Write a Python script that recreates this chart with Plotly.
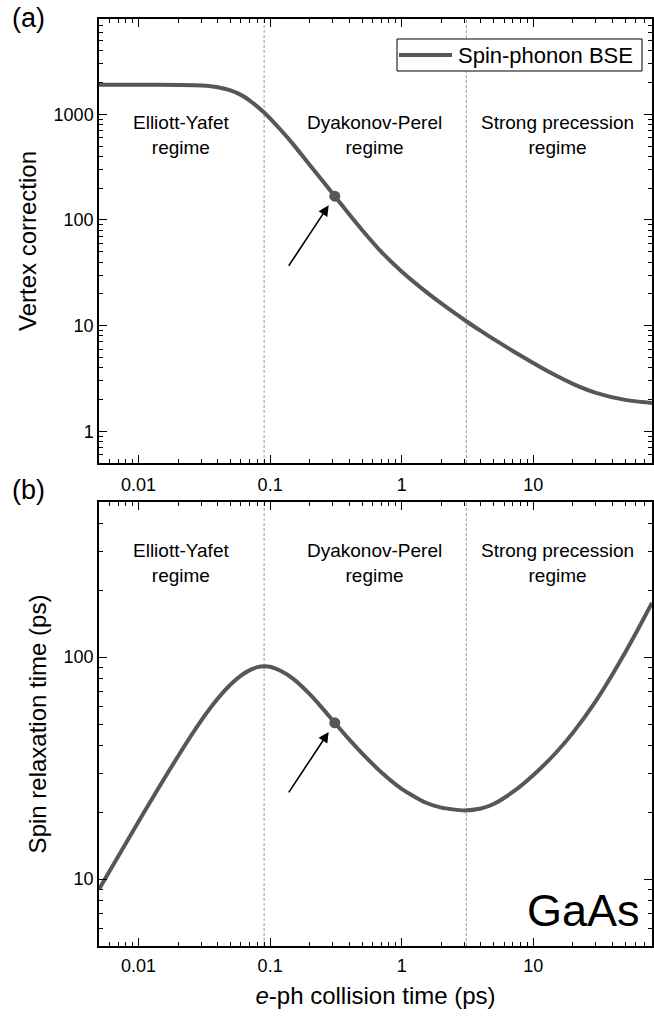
import numpy as np
import plotly.graph_objects as go

# ---------------- data ----------------
tau_top = [0.005, 0.01, 0.02, 0.03, 0.04, 0.05, 0.06, 0.07, 0.09, 0.12, 0.15, 0.2,
           0.25, 0.31, 0.4, 0.5, 0.7, 1.0, 1.42, 2.0, 3.1, 4.0, 5.0, 7.0, 10.0,
           13.7, 20.0, 30.0, 50.0, 80.0]
vertex = [1910, 1910, 1900, 1880, 1810, 1690, 1530, 1350, 1040, 715, 520, 331,
          235, 168, 113, 80.5, 50, 32.5, 22.5, 16.2, 11.0, 8.9, 7.45, 5.75, 4.42,
          3.55, 2.81, 2.31, 1.98, 1.85]

tau_bot = [0.005, 0.01, 0.02, 0.03, 0.04, 0.05, 0.06, 0.07, 0.08, 0.09, 0.1, 0.12,
           0.15, 0.2, 0.25, 0.31, 0.4, 0.5, 0.7, 1.0, 1.5, 2.0, 3.0, 4.0, 5.0,
           7.0, 10.0, 15.0, 20.0, 30.0, 40.0, 50.0, 65.0, 80.0]
spin_time = [9, 18.2, 35.9, 51.9, 65.1, 75.3, 82.6, 87.4, 90.2, 91.1, 90.5, 86.8,
             79.8, 68.1, 58.8, 50.6, 42.5, 36.9, 30.3, 25.5, 22.2, 21.0, 20.4, 20.8, 21.8,
             24.7, 29.4, 37.3, 45.6, 63.6, 83.6, 104.9, 139.2, 175.7]

marker_tau = [0.31]
marker_vertex = [168]
marker_spin = [50.6]

series_name = "Spin-phonon BSE"
regime_bounds = [0.09, 3.1]
regime_labels = ["Elliott-Yafet<br>regime", "Dyakonov-Perel<br>regime",
                 "Strong precession<br>regime"]
regime_label_x = [0.021, 0.62, 15.2]

x_tickvals = [0.01, 0.1, 1, 10]
x_ticktext = ["0.01", "0.1", "1", "10"]
y1_tickvals = [1, 10, 100, 1000]
y1_ticktext = ["1", "10", "100", "1000"]
y2_tickvals = [10, 100]
y2_ticktext = ["10", "100"]

x_range = [0.005, 80]
y1_range = [0.5, 8000]
y2_range = [5, 500]

FONT = "Arial, Liberation Sans, sans-serif"
LINE_COLOR = "#575757"

W, H = 654, 1021
ml, mr, mt, mb = 99, 2, 19, 75
plot_h = H - mt - mb
plot_w = W - ml - mr
top_dom = [(946 - 463) / plot_h, 1.0]
bot_dom = [0.0, (946 - 502) / plot_h]


def py(p):
    return (H - mb - p) / plot_h


def px(p):
    return (p - ml) / plot_w


def minor_vals(lo, hi):
    out = []
    for e in range(int(np.floor(np.log10(lo))) - 1, int(np.ceil(np.log10(hi))) + 1):
        for m in range(2, 10):
            v = m * 10.0 ** e
            if lo <= v <= hi:
                out.append(v)
    return out


fig = go.Figure()

fig.add_trace(go.Scatter(x=tau_top, y=vertex, mode="lines", name=series_name,
                         line=dict(color=LINE_COLOR, width=4, shape="spline", smoothing=0.6),
                         xaxis="x", yaxis="y", showlegend=False))
fig.add_trace(go.Scatter(x=tau_bot, y=spin_time, mode="lines", name=series_name,
                         line=dict(color=LINE_COLOR, width=4, shape="spline", smoothing=0.6),
                         xaxis="x2", yaxis="y2", showlegend=False))
fig.add_trace(go.Scatter(x=marker_tau, y=marker_vertex, mode="markers",
                         marker=dict(color=LINE_COLOR, size=11),
                         xaxis="x", yaxis="y", showlegend=False))
fig.add_trace(go.Scatter(x=marker_tau, y=marker_spin, mode="markers",
                         marker=dict(color=LINE_COLOR, size=11),
                         xaxis="x2", yaxis="y2", showlegend=False))
# invisible traces so the mirrored (top / right) axes get drawn
for xa, ya in (("x3", "y"), ("x", "y3"), ("x4", "y2"), ("x2", "y4")):
    fig.add_trace(go.Scatter(x=[], y=[], xaxis=xa, yaxis=ya, showlegend=False,
                             hoverinfo="skip"))

shapes = []
for b in regime_bounds:
    for xr, yr in (("x", "y domain"), ("x2", "y2 domain")):
        shapes.append(dict(type="line", xref=xr, yref=yr, x0=b, x1=b, y0=0, y1=1,
                           line=dict(color="#9a9a9a", width=1, dash="3px,2px"),
                           layer="below"))
# legend box (drawn by hand to match the long line sample)
shapes.append(dict(type="rect", xref="paper", yref="paper", x0=px(397), x1=px(642),
                   y0=py(71), y1=py(39), line=dict(color="black", width=1),
                   fillcolor="white", layer="above"))
shapes.append(dict(type="line", xref="paper", yref="paper", x0=px(399), x1=px(452),
                   y0=py(55), y1=py(55), line=dict(color=LINE_COLOR, width=4),
                   layer="above"))

annotations = []
annotations.append(dict(x=px(456), y=py(55.5), xref="paper", yref="paper",
                        text=series_name, showarrow=False, xanchor="left",
                        yanchor="middle", font=dict(size=22, color="black", family=FONT)))
for lab, lx in zip(regime_labels, regime_label_x):
    annotations.append(dict(x=np.log10(lx), y=(463 - 135) / 444, xref="x", yref="y domain",
                            text=lab, showarrow=False, xanchor="center", yanchor="middle",
                            font=dict(size=19, color="black", family=FONT)))
    annotations.append(dict(x=np.log10(lx), y=(946 - 563) / 444, xref="x2", yref="y2 domain",
                            text=lab, showarrow=False, xanchor="center", yanchor="middle",
                            font=dict(size=19, color="black", family=FONT)))

annotations.append(dict(x=np.log10(marker_tau[0]), y=np.log10(marker_vertex[0]),
                        xref="x", yref="y", ax=-47, ay=71, text="", showarrow=True,
                        arrowhead=2, arrowsize=1.3, arrowwidth=1.6,
                        arrowcolor="black", standoff=11))
annotations.append(dict(x=np.log10(marker_tau[0]), y=np.log10(marker_spin[0]),
                        xref="x2", yref="y2", ax=-47, ay=71, text="", showarrow=True,
                        arrowhead=2, arrowsize=1.3, arrowwidth=1.6,
                        arrowcolor="black", standoff=11))

annotations.append(dict(x=px(10), y=py(18), xref="paper", yref="paper", text="(a)",
                        showarrow=False, xanchor="left", yanchor="middle",
                        font=dict(size=27, color="black", family=FONT)))
annotations.append(dict(x=px(10), y=py(490), xref="paper", yref="paper", text="(b)",
                        showarrow=False, xanchor="left", yanchor="middle",
                        font=dict(size=27, color="black", family=FONT)))
annotations.append(dict(x=px(642), y=py(910), xref="paper", yref="paper", text="GaAs",
                        showarrow=False, xanchor="right", yanchor="middle",
                        font=dict(size=45, color="black", family=FONT)))

base = dict(type="log", showline=True, linecolor="black", linewidth=1.5,
            ticks="inside", ticklen=8, tickwidth=1.3,
            tickcolor="black", showgrid=False, zeroline=False,
            tickfont=dict(size=18, color="black", family=FONT))


def minor(rng):
    return dict(ticks="inside", ticklen=4, tickwidth=1.1, tickcolor="black",
                tickmode="array", tickvals=minor_vals(*rng), showgrid=False)


xr_log = [np.log10(x_range[0]), np.log10(x_range[1])]
y1_log = [np.log10(y1_range[0]), np.log10(y1_range[1])]
y2_log = [np.log10(y2_range[0]), np.log10(y2_range[1])]

fig.update_layout(
    width=W, height=H,
    margin=dict(l=ml, r=mr, t=mt, b=mb, autoexpand=False),
    paper_bgcolor="white", plot_bgcolor="white",
    font=dict(family=FONT, color="black"),
    shapes=shapes,
    annotations=annotations,
    showlegend=False,
    xaxis=dict(base, domain=[0, 1], anchor="y", range=xr_log,
               tickmode="array", tickvals=x_tickvals, ticktext=x_ticktext,
               ticklabelstandoff=5, minor=minor(x_range)),
    yaxis=dict(base, domain=top_dom, anchor="x", range=y1_log,
               tickmode="array", tickvals=y1_tickvals, ticktext=y1_ticktext,
               title=dict(text="Vertex correction", font=dict(size=24, family=FONT),
                          standoff=10),
               minor=minor(y1_range)),
    xaxis2=dict(base, domain=[0, 1], anchor="y2", range=xr_log,
                tickmode="array", tickvals=x_tickvals, ticktext=x_ticktext,
                ticklabelstandoff=3,
                title=dict(text="<i>e</i>-ph collision time (ps)",
                           font=dict(size=24, family=FONT), standoff=12),
                minor=minor(x_range)),
    yaxis2=dict(base, domain=bot_dom, anchor="x2", range=y2_log,
                tickmode="array", tickvals=y2_tickvals, ticktext=y2_ticktext,
                title=dict(text="Spin relaxation time (ps)", font=dict(size=24, family=FONT),
                           standoff=10),
                minor=minor(y2_range)),
    xaxis3=dict(base, overlaying="x", side="top", anchor="y", range=xr_log,
                tickmode="array", tickvals=x_tickvals, showticklabels=False,
                minor=minor(x_range)),
    yaxis3=dict(base, overlaying="y", side="right", anchor="x", range=y1_log,
                tickmode="array", tickvals=y1_tickvals, showticklabels=False,
                minor=minor(y1_range)),
    xaxis4=dict(base, overlaying="x2", side="top", anchor="y2", range=xr_log,
                tickmode="array", tickvals=x_tickvals, showticklabels=False,
                minor=minor(x_range)),
    yaxis4=dict(base, overlaying="y2", side="right", anchor="x2", range=y2_log,
                tickmode="array", tickvals=y2_tickvals, showticklabels=False,
                minor=minor(y2_range)),
)

fig.write_html("out.html", config={"displayModeBar": False},
               post_script="document.body.style.margin='0';document.body.style.padding='0';"
                           "document.body.style.overflow='hidden';")
